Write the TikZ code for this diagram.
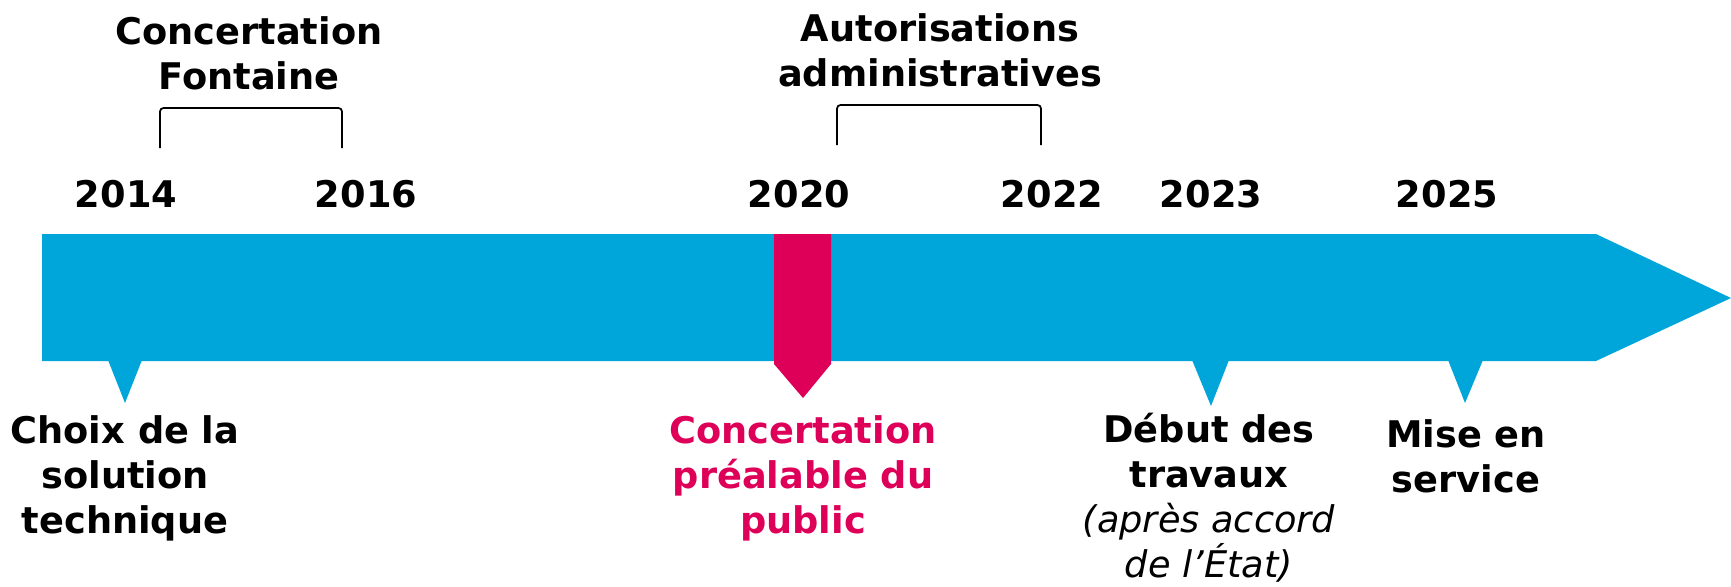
\documentclass[tikz,border=0pt]{standalone}
\usepackage{fontspec}
\setmainfont{DejaVu Sans}
\usetikzlibrary{positioning}
\definecolor{timeblue}{RGB}{0,166,218}
\definecolor{concmagenta}{RGB}{222,0,88}
\tikzset{
  yearlbl/.style={font=\bfseries\fontsize{20.9}{25.6}\selectfont, anchor=base, inner sep=0pt},
  evtext/.style={font=\bfseries\fontsize{20.9}{25.6}\selectfont, align=center, anchor=base, inner sep=0pt},
  bracket/.style={line width=1pt, rounded corners=2pt}
}

\begin{document}
\begin{tikzpicture}[x=0.02cm, y=-0.02cm]
  \useasboundingbox (0,0) rectangle (1731,586);
  % arrow of the timeline
  \fill[timeblue] (42,234) -- (1596,234) -- (1731,298) -- (1596,361) -- (42,361) -- cycle;
  \fill[timeblue] (108,360) -- (142,360) -- (125,403) -- cycle;
  \fill[timeblue] (1192,360) -- (1229,360) -- (1211,406) -- cycle;
  \fill[timeblue] (1448,360) -- (1483,360) -- (1465,403) -- cycle;
  \fill[concmagenta] (774,234) -- (831,234) -- (831,364) -- (803,398) -- (774,364) -- cycle;

  % years
  \foreach \yr/\xx in {2014/126, 2016/366, 2020/799, 2022/1052, 2023/1211, 2025/1447}
    \node[yearlbl] (y\yr) at (\xx,207) {\yr};

  % periods
  \coordinate (fontA) at (160,148);
  \coordinate (fontB) at (342,148);
  \coordinate (autA) at (837,145);
  \coordinate (autB) at (1041,145);
  \draw[bracket] (fontA) -- ++(0,-40) -| (fontB);
  \draw[bracket] (autA) -- ++(0,-40) -| (autB);
  \node[evtext] (fontaine) at (249,89) {Concertation\\Fontaine};
  \node[evtext] (autoris) at (940,86) {Autorisations\\administratives};

  % events (base = last line)
  \node[evtext] (choix) at (125,533) {Choix de la\\solution\\technique};
  \node[evtext, text=concmagenta] (concert) at (803,533) {Concertation\\préalable du\\public};
  \node[evtext] (debut) at (1209,577) {Début des\\travaux\\{\mdseries\itshape (après accord}\\{\mdseries\itshape de l’État)}};
  \node[evtext] (mise) at (1466,492) {Mise en\\service};
\end{tikzpicture}
\end{document}
